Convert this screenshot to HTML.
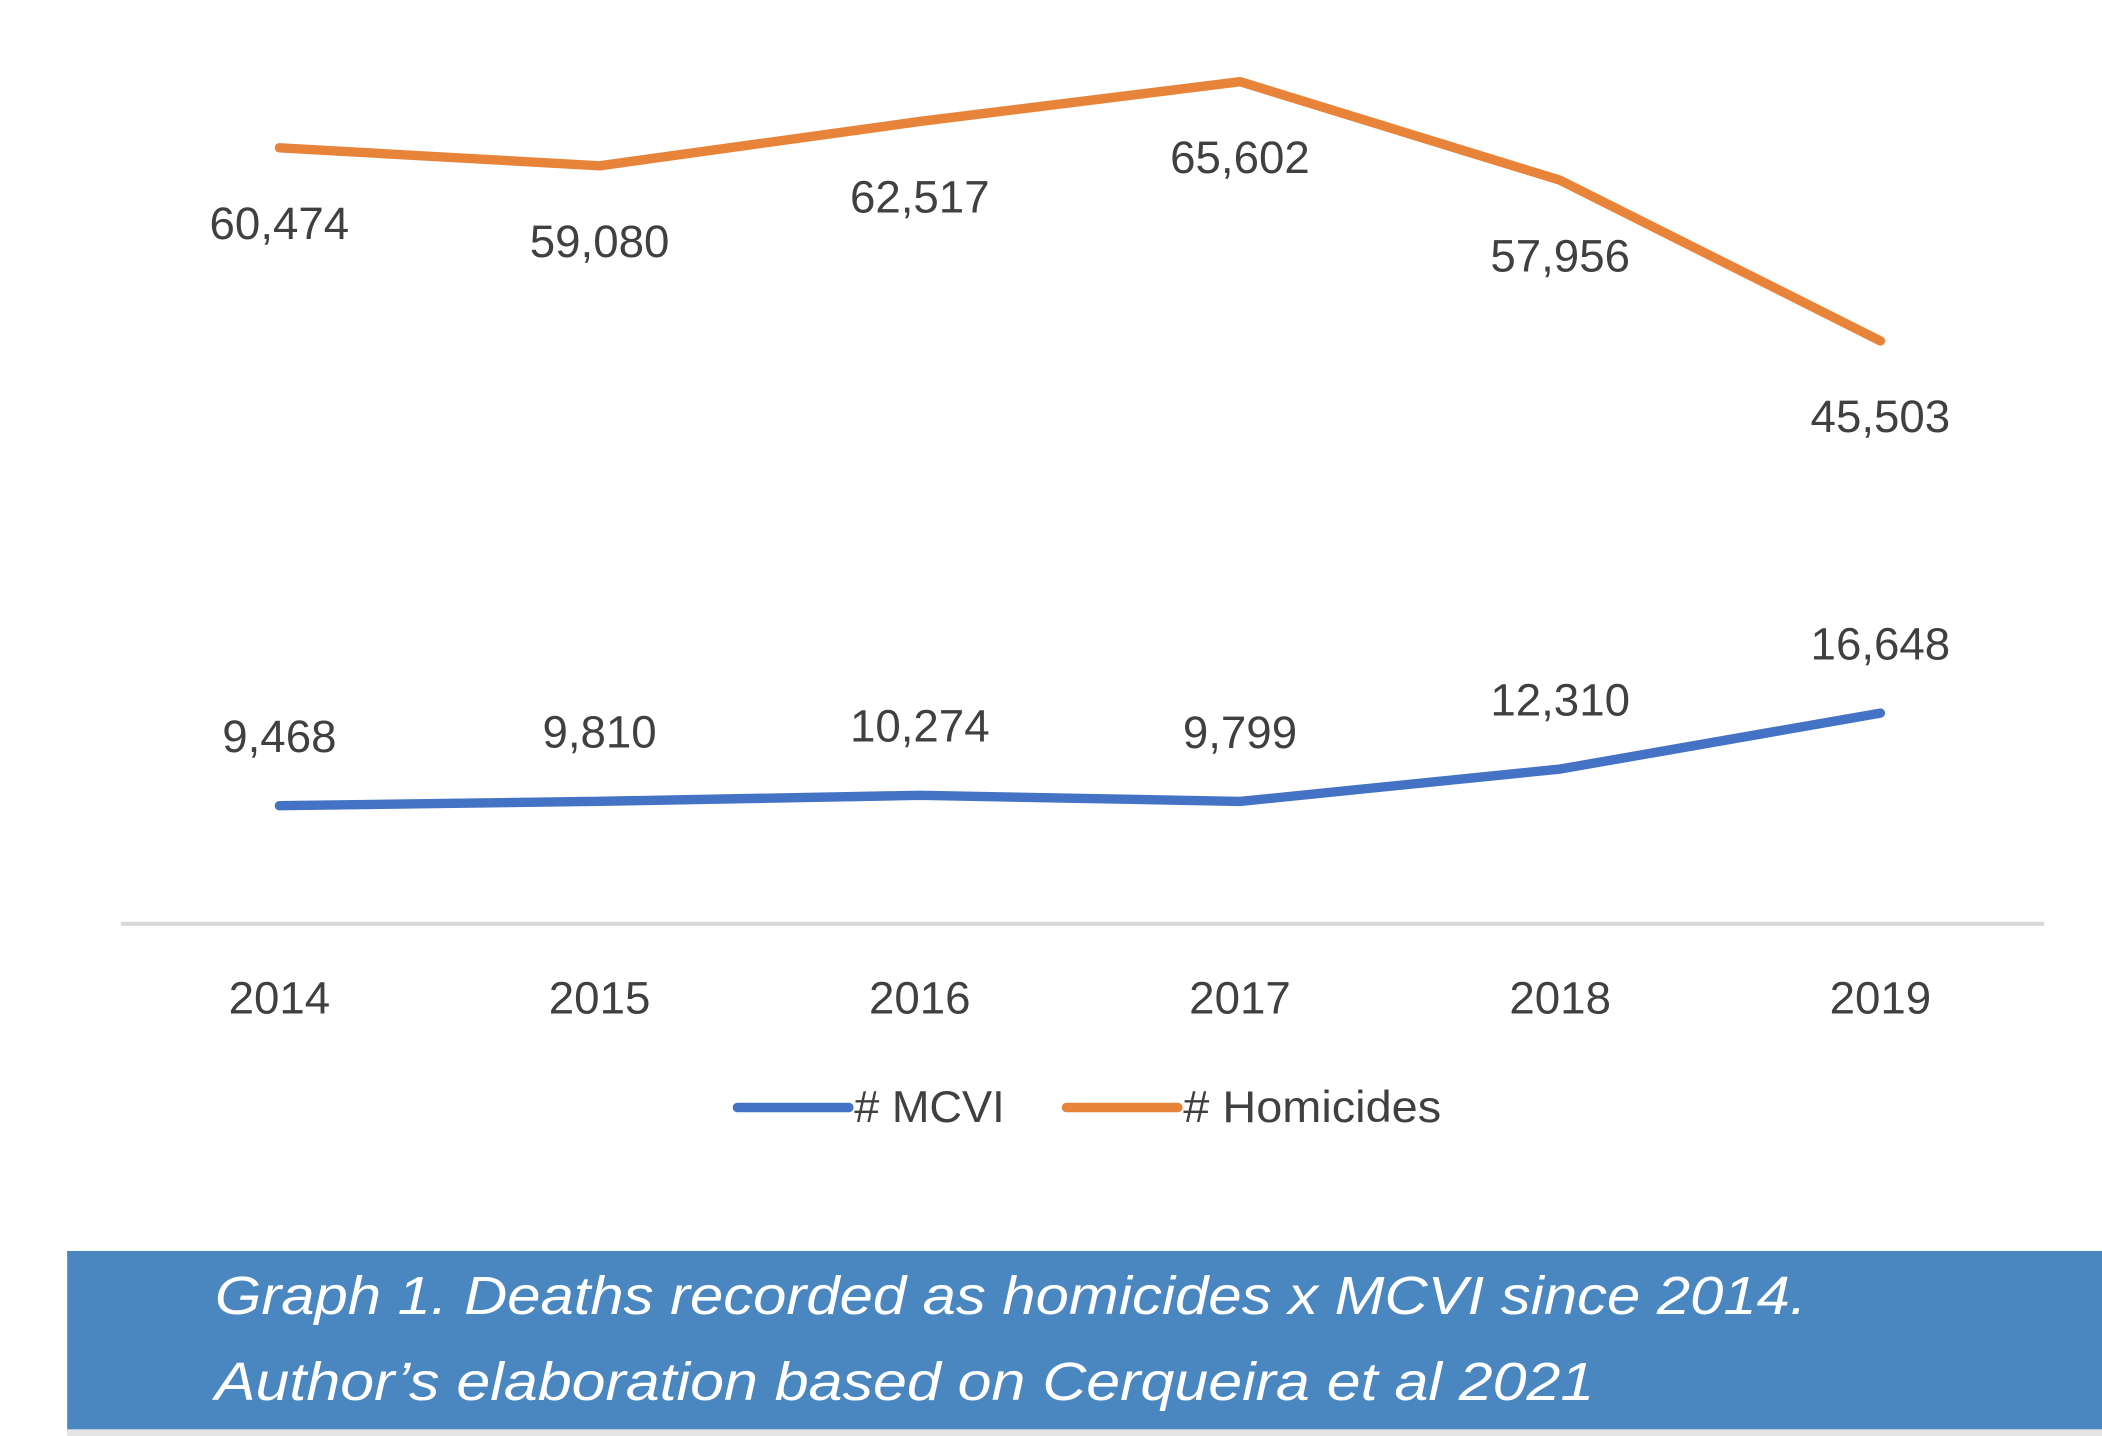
<!DOCTYPE html>
<html><head><meta charset="utf-8"><style>
html,body{margin:0;padding:0;background:#fff;}
svg{display:block;}
</style></head><body>
<svg id="chart" width="2102" height="1436" viewBox="0 0 1565 1071" preserveAspectRatio="none" xmlns="http://www.w3.org/2000/svg" font-family="'Liberation Sans', 'DejaVu Sans', sans-serif">
<line x1="90" y1="689" x2="1522" y2="689" stroke="#d9d9d9" stroke-width="3"/>
<g id="marks"></g>
<g>
<line x1="549" y1="826" x2="632" y2="826" stroke="#4472c4" stroke-width="7" stroke-linecap="round"/>
<text x="636" y="837" font-size="33" fill="#404040" textLength="112" lengthAdjust="spacingAndGlyphs">#&#160;MCVI</text>
<line x1="794" y1="826" x2="877" y2="826" stroke="#e8833a" stroke-width="7" stroke-linecap="round"/>
<text x="881" y="837" font-size="33" fill="#404040" textLength="192" lengthAdjust="spacingAndGlyphs">#&#160;Homicides</text>
</g>
<rect x="50" y="933" width="1515" height="135" fill="#4a86bf"/>
<rect x="50" y="1066" width="1515" height="5" fill="#e5e5e5"/>
<text x="160" y="980" font-size="40" font-style="italic" fill="#fff" textLength="1185" lengthAdjust="spacingAndGlyphs">Graph 1. Deaths recorded as homicides x MCVI since 2014.</text>
<text x="160" y="1044" font-size="40" font-style="italic" fill="#fff" textLength="1027" lengthAdjust="spacingAndGlyphs">Author’s elaboration based on Cerqueira et al 2021</text>
</svg>
<script>
const years = ["2014","2015","2016","2017","2018","2019"];
const homicides = [60474, 59080, 62517, 65602, 57956, 45503];
const mcvi = [9468, 9810, 10274, 9799, 12310, 16648];
const NS = "http://www.w3.org/2000/svg";
const g = document.getElementById("marks");
function xPos(i){ return 208 + i * 238.4; }
function yPos(v){ return 692 - v * 0.00962; }
function fmt(v){ return v.toLocaleString("en-US"); }
function mk(tag, attrs){ const e = document.createElementNS(NS, tag); for (const k in attrs) e.setAttribute(k, attrs[k]); g.appendChild(e); return e; }
years.forEach((y, i) => {
  const t = mk("text", {x: xPos(i), y: 756, "font-size": 34, fill: "#404040", "text-anchor": "middle"});
  t.textContent = y;
  
  
});
function series(vals, color, name, off){
  const pts = vals.map((v, i) => xPos(i) + "," + yPos(v)).join(" ");
  const p = mk("polyline", {points: pts, fill: "none", stroke: color, "stroke-width": 7, "stroke-linejoin": "round", "stroke-linecap": "round"});
  
  
  vals.forEach((v, i) => {
    const t = mk("text", {x: xPos(i), y: yPos(v) + off, "font-size": 34, fill: "#404040", "text-anchor": "middle"});
    t.textContent = fmt(v);
    
    
  });
}
series(homicides, "#e8833a", "homicides", 68);
series(mcvi, "#4472c4", "mcvi", -40);
</script>
</body></html>
